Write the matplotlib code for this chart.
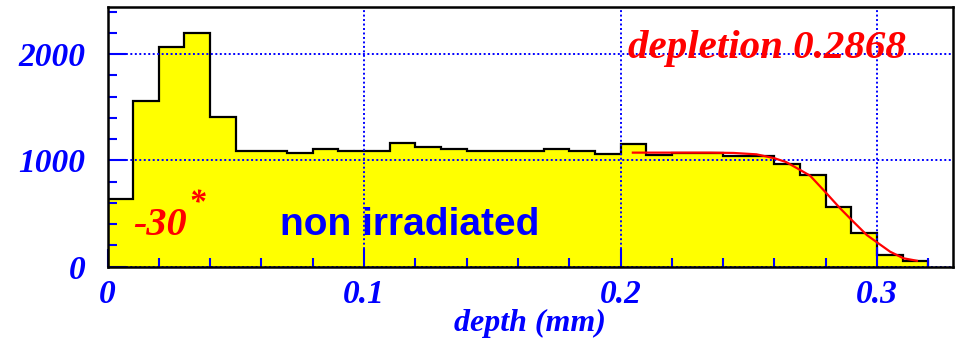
import matplotlib
matplotlib.use("Agg")
import matplotlib.pyplot as plt
from matplotlib import font_manager as fm
from matplotlib.ticker import FixedLocator

# ---------------- data ----------------
bin_edges = [0.00, 0.01, 0.02, 0.03, 0.04, 0.05, 0.06, 0.07, 0.08, 0.09,
             0.10, 0.11, 0.12, 0.13, 0.14, 0.15, 0.16, 0.17, 0.18, 0.19,
             0.20, 0.21, 0.22, 0.23, 0.24, 0.25, 0.26, 0.27, 0.28, 0.29,
             0.30, 0.31, 0.32]
counts = [640, 1562, 2067, 2201, 1411, 1091, 1091, 1073, 1110, 1091,
          1091, 1167, 1129, 1110, 1091, 1091, 1091, 1110, 1091, 1057,
          1151, 1052, 1066, 1066, 1040, 1040, 963, 866, 564, 320,
          110, 56]

fit_x = [0.2048, 0.215, 0.225, 0.235, 0.244, 0.253, 0.260, 0.2645, 0.270,
         0.2739, 0.2797, 0.2856, 0.2901, 0.296, 0.3005, 0.3051, 0.3103,
         0.3155]
fit_y = [1073, 1073, 1073, 1073, 1070, 1057, 1020, 985, 910,
         856, 706, 549, 439, 298, 220, 141, 79, 56]

x_major = [0.0, 0.1, 0.2, 0.3]
x_major_labels = ["0", "0.1", "0.2", "0.3"]
x_minor = [0.02, 0.04, 0.06, 0.08, 0.12, 0.14, 0.16, 0.18, 0.22, 0.24,
           0.26, 0.28, 0.32]
y_major = [0, 1000, 2000]
y_major_labels = ["0", "1000", "2000"]
y_minor = [200, 400, 600, 800, 1200, 1400, 1600, 1800, 2200, 2400]

x_title = "depth (mm)"
fit_text = "depletion 0.2868"
angle_text = "-30"
sample_text = "non irradiated"

# ---------------- style ----------------
W, H = 961, 347
fig = plt.figure(figsize=(W / 100, H / 100), dpi=100)

def fx(px):
    return px / W

def fy(py):
    return 1 - py / H

ax_l, ax_r, ax_t, ax_b = 107.5, 953, 7, 266.7
ax = fig.add_axes([fx(ax_l), fy(ax_b), fx(ax_r - ax_l), (ax_b - ax_t) / H])

serif = dict(family="Liberation Serif", weight="bold", style="italic")
try:
    fm.findfont(fm.FontProperties(family="Liberation Sans Narrow", weight="bold"),
                fallback_to_default=False)
    sans_family, sans_size = "Liberation Sans Narrow", 33
except Exception:
    sans_family, sans_size = "Liberation Sans", 28

BLUE = (0, 0, 1)
RED = (1, 0, 0)

ax.stairs(counts, bin_edges, fill=True, color=(1, 1, 0), zorder=1)
ax.stairs(counts, bin_edges, baseline=0, color="black", linewidth=1.6, zorder=1.5)
ax.plot(fit_x, fit_y, color=RED, linewidth=1.6, zorder=3)

ax.set_xlim(0, 0.3296)
ax.set_ylim(0, 2443)

ax.xaxis.set_major_locator(FixedLocator(x_major))
ax.xaxis.set_minor_locator(FixedLocator(x_minor))
ax.yaxis.set_major_locator(FixedLocator(y_major))
ax.yaxis.set_minor_locator(FixedLocator(y_minor))
ax.set_xticklabels(x_major_labels)
ax.set_yticklabels(y_major_labels)

ax.set_axisbelow(False)
ax.grid(True, which="major", color=BLUE, linewidth=1.4, linestyle=(0, (1, 1.3)))

ax.tick_params(which="both", direction="in", color=BLUE, width=1.5,
               labelcolor=BLUE, labelsize=24)
ax.tick_params(which="major", length=13)
ax.tick_params(which="minor", length=6.5)
ax.tick_params(axis="y", pad=16)
ax.tick_params(axis="x", pad=9)
for lab in ax.get_xticklabels() + ax.get_yticklabels():
    lab.set_fontfamily(serif["family"])
    lab.set_fontweight(serif["weight"])
    lab.set_fontstyle(serif["style"])

for sp in ax.spines.values():
    sp.set_color("black")
    sp.set_linewidth(1.8)
    sp.set_zorder(4)

ax.set_xlabel(x_title, color=BLUE, fontsize=23, va="center", **serif)
ax.xaxis.set_label_coords((530 - ax_l) / (ax_r - ax_l), (ax_b - 323) / (ax_b - ax_t))

fig.text(fx(628), fy(58), fit_text, color=RED, fontsize=29.5, ha="left",
         va="baseline", zorder=5, **serif)
fig.text(fx(133), fy(235), angle_text, color=RED, fontsize=29, ha="left",
         va="baseline", zorder=5, **serif)
fig.text(fx(188), fy(212), "*", color=RED, fontsize=24, ha="left",
         va="baseline", zorder=5, **serif)
fig.text(fx(280), fy(235), sample_text, color=BLUE, fontsize=sans_size,
         family=sans_family, weight="bold", ha="left", va="baseline", zorder=5)

fig.savefig("out.png", dpi=100)
